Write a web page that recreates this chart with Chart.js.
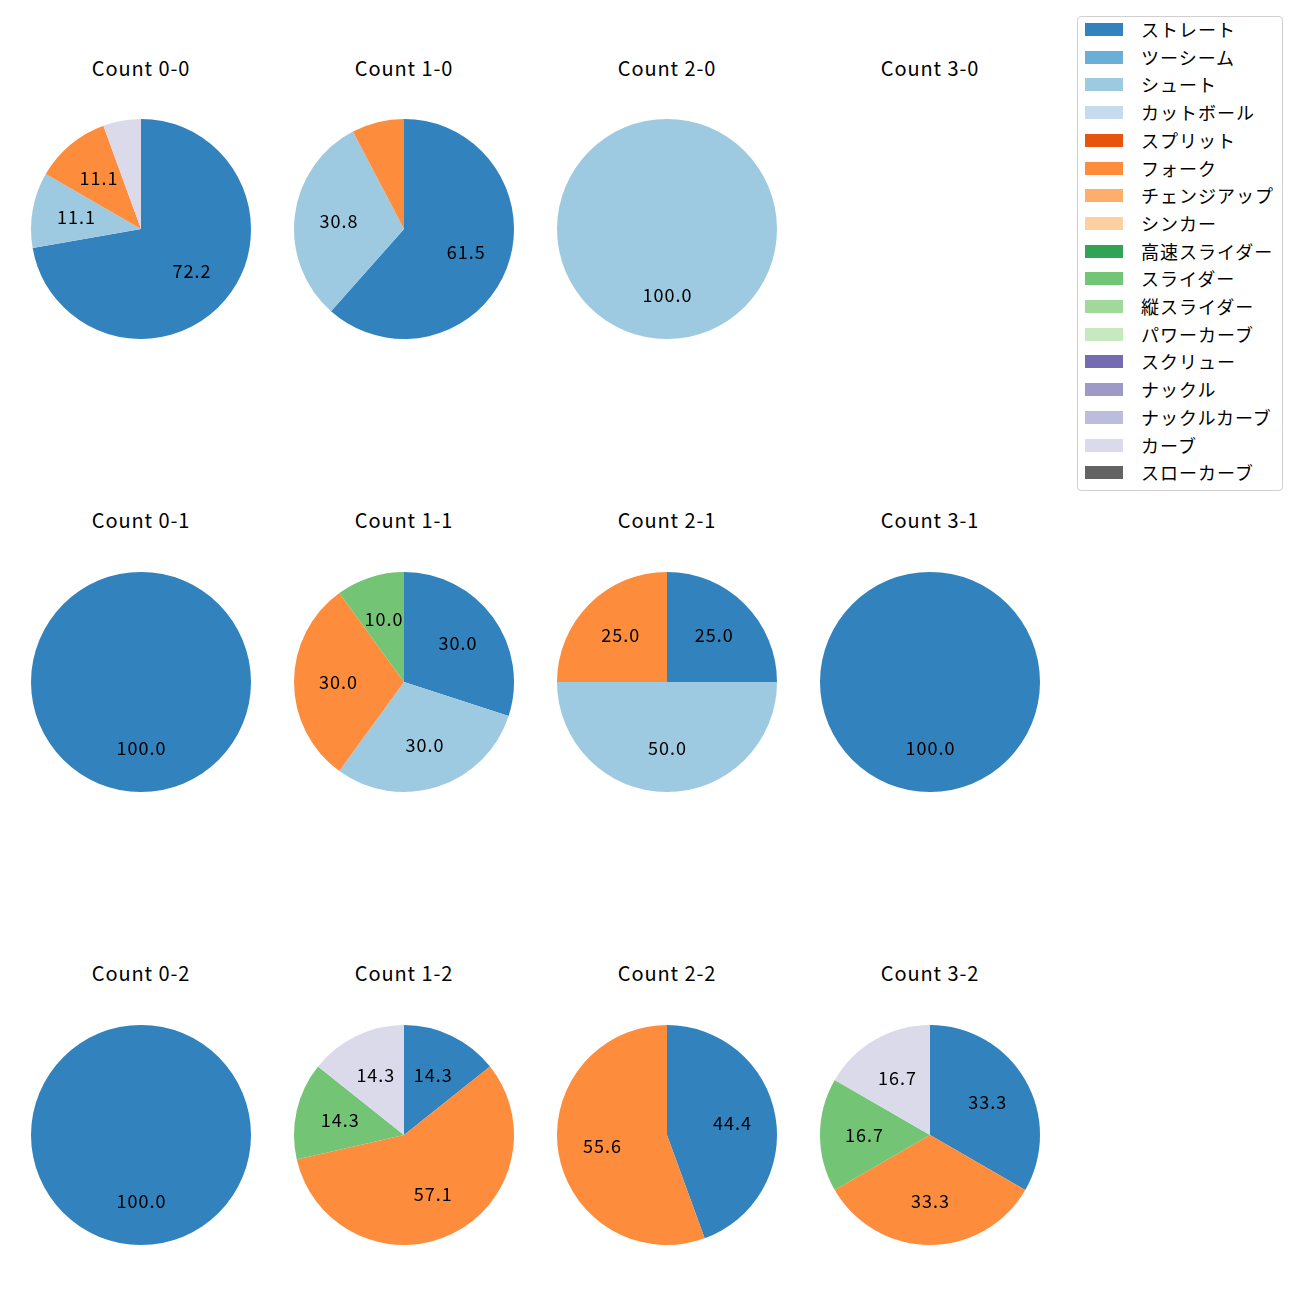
<!DOCTYPE html>
<html>
<head>
<meta charset="utf-8">
<script src="https://cdn.jsdelivr.net/npm/chart.js@4.4.0/dist/chart.umd.min.js"></script>
<style>
body{margin:0;background:#fff;font-family:"Noto Sans CJK JP","Noto Sans",sans-serif;}
#wrap{position:relative;width:1300px;height:1300px;}
.ttl{position:absolute;width:200px;text-align:center;font-size:20px;letter-spacing:0.9px;color:#000;line-height:24px;}
.pie{position:absolute;}
#legend{position:absolute;left:1077px;top:16px;width:204px;height:473px;border:1px solid #d0d0d0;border-radius:4px;background:#fff;}
.lrow{position:absolute;left:7px;height:20px;}
.lbox{position:absolute;left:0;top:3px;width:38px;height:13px;}
.ltxt{position:absolute;left:56px;top:-4px;font-size:18px;letter-spacing:1px;white-space:nowrap;color:#000;}
</style>
</head>
<body>
<div id="wrap"><div id="legend"></div></div>
<script>
var pitchTypes = ['ストレート','ツーシーム','シュート','カットボール','スプリット','フォーク','チェンジアップ','シンカー','高速スライダー','スライダー','縦スライダー','パワーカーブ','スクリュー','ナックル','ナックルカーブ','カーブ','スローカーブ'];
var colorCodes = ['#3182bd','#6baed6','#9ecae1','#c6dbef','#e6550d','#fd8d3c','#fdae6b','#fdd0a2','#31a354','#74c476','#a1d99b','#c7e9c0','#756bb1','#9e9ac8','#bcbddc','#dadaeb','#636363'];

var countNames = ['0-0','1-0','2-0','3-0','0-1','1-1','2-1','3-1','0-2','1-2','2-2','3-2'];
// pitches per type, in pitchTypes order
var c00 = [13,0,2,0,0,2,0,0,0,0,0,0,0,0,0,1,0];
var c10 = [8,0,4,0,0,1,0,0,0,0,0,0,0,0,0,0,0];
var c20 = [0,0,1,0,0,0,0,0,0,0,0,0,0,0,0,0,0];
var c30 = [];
var c01 = [1,0,0,0,0,0,0,0,0,0,0,0,0,0,0,0,0];
var c11 = [3,0,3,0,0,3,0,0,0,1,0,0,0,0,0,0,0];
var c21 = [1,0,2,0,0,1,0,0,0,0,0,0,0,0,0,0,0];
var c31 = [1,0,0,0,0,0,0,0,0,0,0,0,0,0,0,0,0];
var c02 = [1,0,0,0,0,0,0,0,0,0,0,0,0,0,0,0,0];
var c12 = [1,0,0,0,0,4,0,0,0,1,0,0,0,0,0,1,0];
var c22 = [4,0,0,0,0,5,0,0,0,0,0,0,0,0,0,0,0];
var c32 = [2,0,0,0,0,2,0,0,0,1,0,0,0,0,0,1,0];
var countData = [c00,c10,c20,c30,c01,c11,c21,c31,c02,c12,c22,c32];

var colX = [141,404,667,930];
var rowY = [229,682,1135];
var titleY = [68,520,973];

var pctLabels = {
	id:'pctLabels',
	afterDatasetsDraw(chart){
		var ctx = chart.ctx;
		var ds = chart.data.datasets[0].data;
		var total = ds.reduce(function(a,b){return a+b;},0);
		var meta = chart.getDatasetMeta(0);
		ctx.save();
		ctx.font = '18px "Noto Sans CJK JP", "Noto Sans", sans-serif';
		ctx.letterSpacing = '1px';
		ctx.fillStyle = '#000';
		ctx.textAlign = 'center';
		ctx.textBaseline = 'middle';
		meta.data.forEach(function(arc,i){
			var p = ds[i]/total*100;
			if(p < 9) return;
			var a = (arc.startAngle+arc.endAngle)/2;
			var r = arc.outerRadius*0.6;
			ctx.fillText(p.toFixed(1), arc.x+Math.cos(a)*r+0.5, arc.y+Math.sin(a)*r);
		});
		ctx.restore();
	}
};

var wrap = document.getElementById('wrap');
var size = 228;
for(var i=0;i<countNames.length;i++){
	var col = i%4, row = Math.floor(i/4);
	var t = document.createElement('div');
	t.className = 'ttl';
	t.textContent = 'Count '+countNames[i];
	t.style.left = (colX[col]-100)+'px';
	t.style.top = (titleY[row]-12)+'px';
	wrap.appendChild(t);
	if(countData[i].length == 0) continue;
	var cv = document.createElement('canvas');
	cv.className = 'pie';
	cv.width = size; cv.height = size;
	cv.style.left = (colX[col]-size/2)+'px';
	cv.style.top = (rowY[row]-size/2)+'px';
	wrap.appendChild(cv);
	new Chart(cv,{
		type:'pie',
		data:{
			labels:pitchTypes,
			datasets:[{data:countData[i],backgroundColor:colorCodes,borderWidth:0}]
		},
		options:{
			responsive:false,
			animation:false,
			layout:{padding:4},
			plugins:{legend:{display:false},tooltip:{enabled:false}}
		},
		plugins:[pctLabels]
	});
}

var legend = document.getElementById('legend');
for(var j=0;j<pitchTypes.length;j++){
	var r = document.createElement('div');
	r.className = 'lrow';
	r.style.top = (3+j*27.7)+'px';
	r.innerHTML = '<div class="lbox" style="background:'+colorCodes[j]+'"></div><div class="ltxt">'+pitchTypes[j]+'</div>';
	legend.appendChild(r);
}
</script>
</body>
</html>
